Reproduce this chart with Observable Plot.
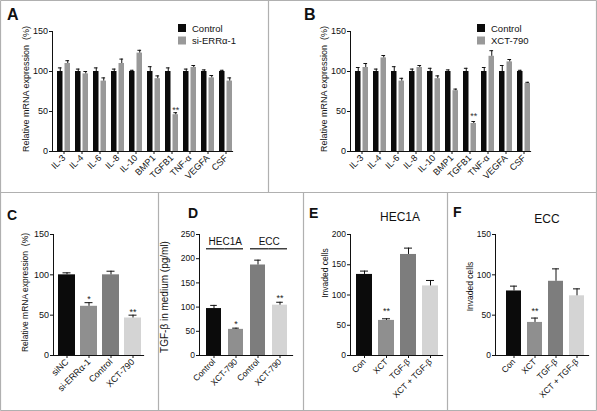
<!DOCTYPE html>
<html><head><meta charset="utf-8">
<script src="https://cdn.jsdelivr.net/npm/d3@7"></script>
<script src="https://cdn.jsdelivr.net/npm/@observablehq/plot@0.6"></script>
<style>
body{margin:0;background:#fff;}
#fig{position:relative;width:597px;height:411px;overflow:hidden;background:#fff;}
.panel{position:absolute;}
.panel svg{display:block;}
#overlay{position:absolute;left:0;top:0;pointer-events:none;}
</style></head><body>
<div id="fig"></div>
<script>
// ---------------- data ----------------
const genes = ["IL-3","IL-4","IL-6","IL-8","IL-10","BMP1","TGFB1","TNF-α","VEGFA","CSF"];

const seriesA = ["Control","si-ERRα-1"];
const ctrlA    = [100,100,100,100,100,100,100,100,100,100];
const ctrlAErr = [4.5,3,4.5,3,1.5,6,4.5,3,2,1.5];
const siA      = [110,97,88,110,123,91,46,105,92,88];
const siAErr   = [3.5,3,4,5.5,3.5,3.5,2.5,2.5,3,4];
const sigA     = ["","","","","","","**","","",""];

const seriesB = ["Control","XCT-790"];
const ctrlB    = [100,100,100,100,100,100,100,100,100,100];
const ctrlBErr = [5,3,6,3,4,2,4,5,7.5,1.5];
const xctB     = [105,117,88,105,91,76,35,119,112,85];
const xctBErr  = [5,3,3.5,2.5,3.5,2,2.5,7,3,1.5];
const sigB     = ["","","","","","","**","","",""];

const catsC = ["siNC","si-ERRα-1","Control","XCT-790"];
const valsC = [100,61,100,46.5];
const errsC = [2.5,4.5,4.5,3.5];
const sigC  = ["","*","","**"];

const catsD   = ["Control","XCT-790","Control","XCT-790"];
const groupsD = ["HEC1A","ECC"];
const groupOfD = [0,0,1,1];
const valsD = [97,54,187,104];
const errsD = [6.5,2.5,10,6];
const sigD  = ["","*","","**"];

const catsEF = ["Con","XCT","TGF-β","XCT + TGF-β"];
const valsE = [134,58,167,115];
const errsE = [5.5,2.7,10.5,9];
const sigE  = ["","**","",""];
const valsF = [80,41,92,74];
const errsF = [6,5.4,15.4,8.6];
const sigF  = ["","**","",""];

const ticks150 = [0,50,100,150];
const ticks200 = [0,50,100,150,200];
const ticks250 = [0,50,100,150,200,250];

const labelMRNA = "Relative mRNA expression  (%)";
const labelTGF = "TGF-β in medium (pg/ml)";
const labelInv = "Invaded cells";

// ---------------- styles ----------------
const FONT = '"Liberation Sans", Arial, Helvetica, sans-serif';
const INK = "#111";
const BLACK = "#0b0b0b";
const GREY = "#999999";
const fourColors = [BLACK, "#8f8f8f", "#7d7d7d", "#d4d4d4"];

const fig = document.getElementById("fig");
function place(node, left, top) {
  const d = document.createElement("div");
  d.className = "panel";
  d.style.left = left + "px";
  d.style.top = top + "px";
  d.appendChild(node);
  fig.appendChild(d);
}
function baseStyle(fs) {
  return {fontFamily: FONT, fontSize: fs + "px", color: INK, background: "transparent", overflow: "visible"};
}
function yTitle(label, dx, dy, fs) {
  return Plot.text([label], {frameAnchor: "left", textAnchor: "middle", lineAnchor: "middle", rotate: -90, dx, dy, fontSize: fs, fill: INK});
}

function groupedPanel(o) {
  const rowsC = genes.map((g, i) => ({g, v: o.ctrl[i], e: o.ctrlErr[i]}));
  const rowsT = genes.map((g, i) => ({g, v: o.trt[i], e: o.trtErr[i], s: o.sig[i]}));
  const top = d => d.v + d.e;
  return Plot.plot({
    width: o.width, height: o.height,
    marginTop: o.mt, marginBottom: o.mb, marginLeft: o.ml, marginRight: o.mr,
    style: baseStyle(9),
    x: {type: "band", domain: genes, paddingInner: 0.265, paddingOuter: 0.12, align: 1},
    y: {domain: [0, 150]},
    marks: [
      Plot.barY(rowsC, {x: "g", y: "v", fill: BLACK, insetRight: 7.5}),
      Plot.barY(rowsT, {x: "g", y: "v", fill: GREY, insetLeft: 7.5}),
      Plot.ruleX(rowsC, {x: "g", y1: "v", y2: top, dx: -3.75, stroke: INK}),
      Plot.ruleX(rowsT, {x: "g", y1: "v", y2: top, dx: 3.75, stroke: INK}),
      Plot.tickY(rowsC, {x: "g", y: top, insetLeft: 0.9, insetRight: 8.4, stroke: INK}),
      Plot.tickY(rowsT, {x: "g", y: top, insetLeft: 8.4, insetRight: 0.9, stroke: INK}),
      Plot.text(rowsT, {x: "g", y: top, text: "s", dx: 3.75, dy: o.starDy, lineAnchor: "bottom", fontSize: 9, fill: "#333"}),
      Plot.frame({anchor: "left", stroke: INK}),
      Plot.frame({anchor: "bottom", stroke: INK, strokeWidth: 1.2}),
      Plot.axisY({ticks: ticks150, tickSize: 3, tickPadding: 1.5, label: null, stroke: INK}),
      Plot.axisX({tickRotate: -45, tickSize: 3, tickPadding: 2, label: null, stroke: INK}),
      yTitle(o.ylabel, o.ldx, o.ldy, 9)
    ]
  });
}

function singlePanel(o) {
  const keys = o.cats.map((_, i) => i);
  const rows = keys.map(i => ({k: i, v: o.vals[i], e: o.errs[i], s: o.sig[i]}));
  const top = d => d.v + d.e;
  const marks = [
    Plot.barY(rows, {x: "k", y: "v", fill: "k"}),
    Plot.ruleX(rows, {x: "k", y1: "v", y2: top, stroke: INK}),
    Plot.tickY(rows, {x: "k", y: top, stroke: INK, insetLeft: o.cap, insetRight: o.cap}),
    Plot.text(rows, {x: "k", y: top, text: "s", lineAnchor: "bottom", dy: o.starDy, fontSize: 9, fill: "#222"}),
    Plot.frame({anchor: "left", stroke: INK}),
    Plot.frame({anchor: "bottom", stroke: INK, strokeWidth: 1.2}),
    Plot.axisY({ticks: o.ticks, tickSize: 3, tickPadding: 1.5, label: null, stroke: INK}),
    Plot.axisX({tickRotate: -45, tickSize: 3, tickPadding: 2, label: null, stroke: INK, tickFormat: i => o.cats[i]}),
    yTitle(o.ylabel, o.ldx, o.ldy, o.lfs)
  ];
  if (o.extra) marks.push(...o.extra(rows, o));
  return Plot.plot({
    width: o.width, height: o.height,
    marginTop: o.mt, marginBottom: o.mb, marginLeft: o.ml, marginRight: o.mr,
    style: baseStyle(o.fs),
    x: {type: "band", domain: keys, paddingInner: o.pi, paddingOuter: o.po, align: o.align},
    y: {domain: [0, o.ymax]},
    color: {type: "ordinal", domain: keys, range: o.colors},
    marks
  });
}

// ---------------- panels ----------------
place(groupedPanel({width: 268, height: 192, mt: 31, mb: 41, ml: 52, mr: 36,
  ctrl: ctrlA, ctrlErr: ctrlAErr, trt: siA, trtErr: siAErr, sig: sigA,
  ylabel: labelMRNA, ldx: -26.5, ldy: -2.5, starDy: 0}), 0, 0);

place(groupedPanel({width: 329, height: 192, mt: 31, mb: 41, ml: 82, mr: 67,
  ctrl: ctrlB, ctrlErr: ctrlBErr, trt: xctB, trtErr: xctBErr, sig: sigB,
  ylabel: labelMRNA, ldx: -26, ldy: -2.5, starDy: -3}), 268, 0);

place(singlePanel({width: 158, height: 219, mt: 42, mb: 56, ml: 53, mr: 15, fs: 9,
  cats: catsC, vals: valsC, errs: errsC, sig: sigC, colors: fourColors,
  ymax: 150, ticks: ticks150, pi: 0.22, po: 0.11, align: 0.8, cap: 4.5,
  ylabel: labelMRNA, ldx: -28, ldy: -2.5, lfs: 8.5, starDy: -0.5}), 0, 192);

place(singlePanel({width: 145, height: 219, mt: 42, mb: 56, ml: 41, mr: 11, fs: 8.5,
  cats: catsD, vals: valsD, errs: errsD, sig: sigD, colors: fourColors,
  ymax: 250, ticks: ticks250, pi: 0.3, po: 0.22, align: 0.6, cap: 4.2,
  ylabel: labelTGF, ldx: -35, ldy: 2, lfs: 10, starDy: -1.5,
  extra: (rows, o) => {
    const left = rows.filter((d, i) => i === 0 || groupOfD[i] !== groupOfD[i - 1]);
    const right = rows.filter((d, i) => !(i === 0 || groupOfD[i] !== groupOfD[i - 1]));
    return [
      Plot.tickY(left, {x: "k", y: () => o.ymax, dy: 14.3, insetRight: -3.5, stroke: INK, strokeWidth: 1.2}),
      Plot.tickY(right, {x: "k", y: () => o.ymax, dy: 14.3, insetLeft: -3.5, stroke: INK, strokeWidth: 1.2}),
      Plot.text(left, {x: "k", y: () => o.ymax, dy: 10, dx: 11.2, text: d => groupsD[groupOfD[d.k]], lineAnchor: "bottom", fontSize: 10, fill: INK})
    ];
  }}), 158, 192);

place(singlePanel({width: 145, height: 219, mt: 42, mb: 56, ml: 47, mr: 6, fs: 8.5,
  cats: catsEF, vals: valsE, errs: errsE, sig: sigE, colors: fourColors,
  ymax: 200, ticks: ticks200, pi: 0.28, po: 0.2, align: 0.55, cap: 4,
  ylabel: labelInv, ldx: -25.5, ldy: -22, lfs: 8.5, starDy: -5}), 303, 192);

place(singlePanel({width: 149, height: 219, mt: 42, mb: 56, ml: 47, mr: 9, fs: 8.5,
  cats: catsEF, vals: valsF, errs: errsF, sig: sigF, colors: fourColors,
  ymax: 150, ticks: ticks150, pi: 0.27, po: 0.25, align: 0.75, cap: 4,
  ylabel: labelInv, ldx: -25, ldy: -8.5, lfs: 8.5, starDy: -4}), 448, 192);

// ---------------- overlay: borders, letters, titles, legends ----------------
const ov = d3.create("svg").attr("id", "overlay").attr("width", 597).attr("height", 411)
  .style("font-family", FONT);
const borders = [
  [0.5,0.5,596.5,0.5],[0.5,410.5,596.5,410.5],[0.5,0.5,0.5,410.5],[596.5,0.5,596.5,410.5],
  [0,192.5,597,192.5],[268.5,0,268.5,192],[158.5,192,158.5,411],[303.5,192,303.5,411],[447.5,192,447.5,411]
];
ov.selectAll("line.b").data(borders).join("line")
  .attr("x1", d => d[0]).attr("y1", d => d[1]).attr("x2", d => d[2]).attr("y2", d => d[3])
  .attr("stroke", "#b0b0b0").attr("stroke-width", 1.2);

const letters = [
  {t: "A", x: 7, y: 20, fs: 16}, {t: "B", x: 304, y: 20, fs: 16},
  {t: "C", x: 7, y: 220, fs: 14}, {t: "D", x: 188, y: 218, fs: 14},
  {t: "E", x: 309, y: 218, fs: 14}, {t: "F", x: 453, y: 217, fs: 14}
];
ov.selectAll("text.l").data(letters).join("text")
  .attr("x", d => d.x).attr("y", d => d.y).attr("font-size", d => d.fs)
  .attr("font-weight", "bold").attr("fill", INK).text(d => d.t);

const titles = [{t: "HEC1A", x: 400, y: 221}, {t: "ECC", x: 547, y: 223}];
ov.selectAll("text.t").data(titles).join("text")
  .attr("x", d => d.x).attr("y", d => d.y).attr("font-size", 12)
  .attr("text-anchor", "middle").attr("fill", INK).text(d => d.t);

function legend(series, x, y) {
  const colors = [BLACK, GREY];
  const g = ov.append("g").attr("transform", `translate(${x},${y})`);
  series.forEach((s, i) => {
    g.append("rect").attr("x", 0).attr("y", i * 12.5).attr("width", 8).attr("height", 8).attr("fill", colors[i]);
    g.append("text").attr("x", 14).attr("y", i * 12.5 + 7.5).attr("font-size", 9.5).attr("fill", INK).text(s);
  });
}
legend(seriesA, 178, 24);
legend(seriesB, 477, 24);

fig.appendChild(ov.node());
</script>
</body></html>
